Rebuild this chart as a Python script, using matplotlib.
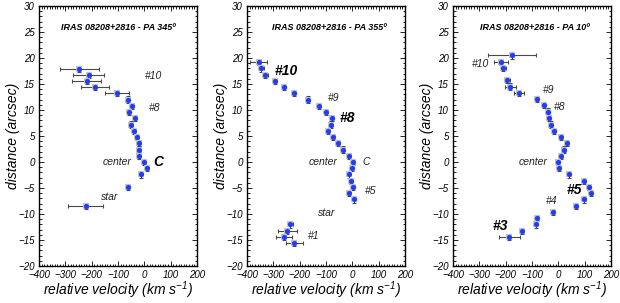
import matplotlib
matplotlib.use('Agg')
import matplotlib.pyplot as plt
from matplotlib.ticker import MultipleLocator

plt.rcParams['font.family'] = ['Liberation Sans', 'DejaVu Sans']
plt.rcParams['mathtext.fontset'] = 'custom'
plt.rcParams['mathtext.rm'] = 'Liberation Sans:italic'
plt.rcParams['mathtext.it'] = 'Liberation Sans:italic'
plt.rcParams['mathtext.default'] = 'it'

titles = ['IRAS 08208+2816 - PA 345º', 'IRAS 08208+2816 - PA 355º', 'IRAS 08208+2816 - PA 10º']

# PA 345
vel_345 = [-247, -212, -218, -187, -104, -63, -46, -57, -36, -49, -41, -28, -20, -22, -20,
           -1, 10, -14, -62, -223]
dist_345 = [17.9, 16.8, 15.6, 14.4, 13.2, 12.0, 10.8, 9.6, 8.4, 7.2, 6.0, 4.8, 3.6, 2.4, 1.2,
            0.0, -1.2, -2.4, -4.8, -8.4]
xerr_345 = [75, 57, 55, 52, 44, 8, 6, 5, 5, 5, 5, 5, 5, 5, 5, 5, 5, 5, 5, 66]

# PA 355
vel_355 = [-356, -345, -330, -292, -259, -222, -170, -128, -100, -78, -82, -92, -72, -54, -35,
           -14, 1, 0, -13, -6, 4, -14, 8, -235, -247, -258, -220]
dist_355 = [19.2, 18.0, 16.8, 15.6, 14.4, 13.2, 12.0, 10.8, 9.6, 8.4, 7.2, 6.0, 4.8, 3.6, 2.4,
            1.2, 0.0, -1.2, -2.4, -3.6, -4.8, -6.0, -7.2, -12.0, -13.2, -14.4, -15.6]
xerr_355 = [33, 10, 8, 6, 8, 8, 7, 6, 5, 5, 5, 5, 5, 5, 5, 5, 5, 5, 5, 5, 5, 5, 5,
            8, 35, 30, 32]

# PA 10
vel_10 = [-176, -218, -209, -196, -182, -150, -82, -54, -38, -34, -28, -15, 10, 33, 20,
          9, 0, 3, 42, 98, 118, 123, 98, 66, -21, -81, -86, -139, -187]
dist_10 = [20.5, 19.3, 18.1, 15.7, 14.5, 13.3, 12.1, 10.9, 9.7, 8.5, 7.2, 6.0, 4.8, 3.6, 2.4,
           1.2, 0.0, -1.2, -2.4, -3.6, -4.8, -6.0, -7.2, -8.4, -9.6, -10.8, -12.0, -13.2, -14.4]
xerr_10 = [90, 27, 10, 12, 20, 18, 6, 5, 5, 5, 5, 5, 5, 5, 5, 5, 5, 5, 5, 5, 5, 5, 5,
           5, 5, 5, 5, 5, 40]

# annotations: text, velocity, distance, bold
labels_345 = [('#10', 36, 16.5, False), ('#8', 39, 10.4, False), ('center', -104, 0, False),
              ('C', 52, 0, True), ('star', -132, -6.7, False)]
labels_355 = [('#10', -250, 17.5, True), ('#9', -72, 12.3, False), ('#8', -19, 8.5, True),
              ('center', -110, 0, False), ('C', 54, 0, False), ('#5', 71, -5.6, False),
              ('star', -97, -9.9, False), ('#1', -148, -14.2, False)]
labels_10 = [('#10', -297, 18.8, False), ('#9', -38, 13.8, False), ('#8', 6, 10.5, False),
             ('center', -95, 0, False), ('#5', 60, -5.4, True), ('#4', -25, -7.5, False),
             ('#3', -219, -12.4, True)]

panels = [(vel_345, dist_345, xerr_345, labels_345),
          (vel_355, dist_355, xerr_355, labels_355),
          (vel_10, dist_10, xerr_10, labels_10)]

fig = plt.figure(figsize=(6.2, 3.03), dpi=100)
lefts = [39 / 620, 247 / 620, 453 / 620]

for left, title, (vel, dist, xerr, labels) in zip(lefts, titles, panels):
    ax = fig.add_axes([left, 37 / 303, 158 / 620, 260 / 303])
    ax.errorbar(vel, dist, xerr=xerr, yerr=0.6, fmt='none', ecolor='#4a4a4a',
                elinewidth=0.8, capsize=1.5, capthick=0.8, zorder=2)
    ax.scatter(vel, dist, marker='s', s=22, color='#c4c4c4', zorder=3, linewidths=0)
    ax.scatter(vel, dist, marker='o', s=14, color='#1f3cff', zorder=4, linewidths=0)

    for txt, v, d, bold in labels:
        if bold:
            ax.text(v, d, txt, fontsize=10, fontstyle='italic', fontweight='bold',
                    ha='center', va='center')
        else:
            ax.text(v, d, txt, fontsize=7.5, fontstyle='italic', ha='center', va='center',
                    color='#222222')

    ax.text(0.5 if left < 0.1 else 0.52, 0.917, title, transform=ax.transAxes, fontsize=6.5,
            fontstyle='italic', fontweight='bold', ha='center', va='center')

    ax.set_xlim(-400, 200)
    ax.set_ylim(-20, 30)
    ax.xaxis.set_major_locator(MultipleLocator(100))
    ax.xaxis.set_minor_locator(MultipleLocator(10))
    ax.yaxis.set_major_locator(MultipleLocator(5))
    ax.yaxis.set_minor_locator(MultipleLocator(1))
    ax.tick_params(which='both', direction='in', top=True, right=True,
                   labelsize=7, pad=3, width=0.6)
    ax.tick_params(which='major', length=3.5)
    ax.tick_params(which='minor', length=1.8)
    for lab in ax.get_xticklabels() + ax.get_yticklabels():
        lab.set_fontstyle('italic')
    for sp in ax.spines.values():
        sp.set_linewidth(1.0)

    ax.set_xlabel('relative velocity (km s$^{-1}$)', fontsize=10, fontstyle='italic')
    ax.set_ylabel('distance (arcsec)', fontsize=10, fontstyle='italic')
    ax.xaxis.set_label_coords(0.5, -0.05)
    ax.yaxis.set_label_coords(-0.12, 0.5)

fig.savefig('out.png', dpi=100)
